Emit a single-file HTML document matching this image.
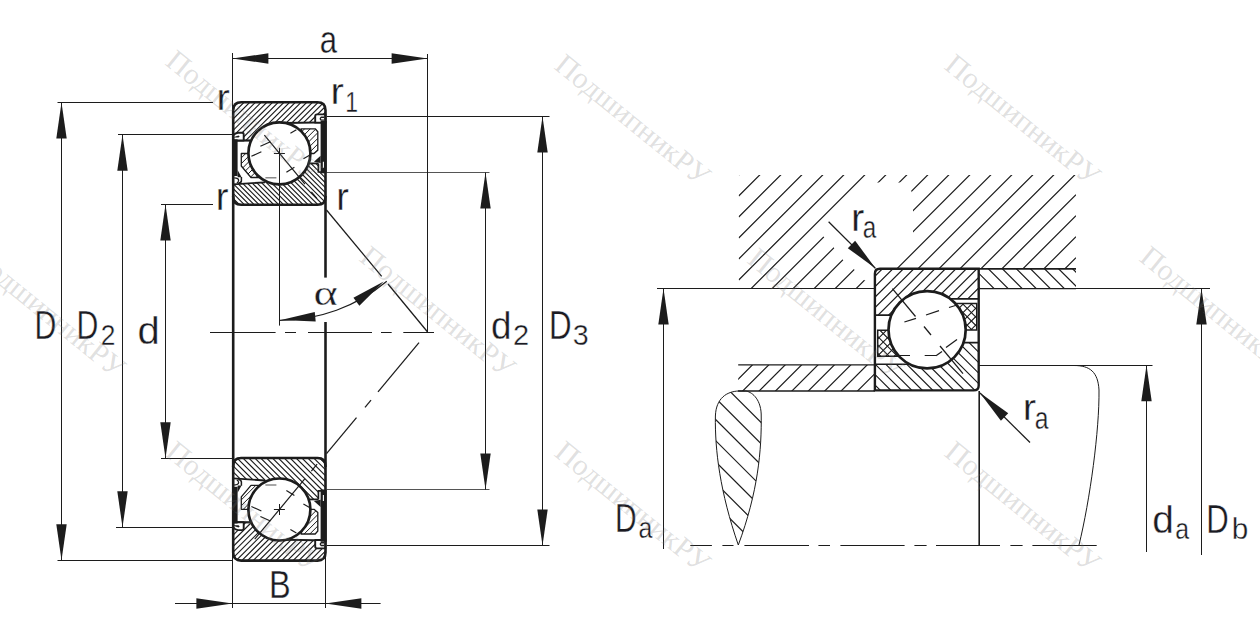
<!DOCTYPE html>
<html lang="ru"><head><meta charset="utf-8"><title>Подшипник</title>
<style>html,body{margin:0;padding:0;background:#fff}svg{display:block}</style></head><body>
<svg width="1260" height="626" viewBox="0 0 1260 626">
<rect width="1260" height="626" fill="#fff"/>
<g>
<clipPath id="cot"><path d="M233.2,140.5 L233.2,110.2 Q233.2,102.2 241.2,102.2 L317.5,102.2 Q325.5,102.2 325.5,110.2 L325.5,115 L315.2,115 L315.2,122.8 L279.4,122.8 L279.4,150 L250,150 L250,140.5 Z"/></clipPath>
<clipPath id="cit"><path d="M233.2,184.4 L265,182.3 L279.4,170 L309,163.4 L318.4,163.4 L318.4,172 L325.5,172 L325.5,196.8 Q325.5,204.8 317.5,204.8 L241.2,204.8 Q233.2,204.8 233.2,196.8 Z"/></clipPath>
<g clip-path="url(#cot)"><path d="M231.20,103.80L327.50,7.50M231.20,109.50L327.50,13.20M231.20,115.20L327.50,18.90M231.20,120.90L327.50,24.60M231.20,126.60L327.50,30.30M231.20,132.30L327.50,36.00M231.20,138.00L327.50,41.70M231.20,143.70L327.50,47.40M231.20,149.40L327.50,53.10M231.20,155.10L327.50,58.80M231.20,160.80L327.50,64.50M231.20,166.50L327.50,70.20M231.20,172.20L327.50,75.90M231.20,177.90L327.50,81.60M231.20,183.60L327.50,87.30M231.20,189.30L327.50,93.00M231.20,195.00L327.50,98.70M231.20,200.70L327.50,104.40M231.20,206.40L327.50,110.10M231.20,212.10L327.50,115.80M231.20,217.80L327.50,121.50M231.20,223.50L327.50,127.20M231.20,229.20L327.50,132.90M231.20,234.90L327.50,138.60M231.20,240.60L327.50,144.30M231.20,246.30L327.50,150.00M231.20,252.00L327.50,155.70M231.20,257.70L327.50,161.40M231.20,263.40L327.50,167.10M231.20,269.10L327.50,172.80M231.20,274.80L327.50,178.50M231.20,280.50L327.50,184.20M231.20,286.20L327.50,189.90M231.20,291.90L327.50,195.60M231.20,297.60L327.50,201.30" stroke="#1c1c1c" stroke-width="1.15" fill="none"/></g>
<g clip-path="url(#cit)"><path d="M231.20,5.30L327.50,101.60M231.20,10.20L327.50,106.50M231.20,15.10L327.50,111.40M231.20,20.00L327.50,116.30M231.20,24.90L327.50,121.20M231.20,29.80L327.50,126.10M231.20,34.70L327.50,131.00M231.20,39.60L327.50,135.90M231.20,44.50L327.50,140.80M231.20,49.40L327.50,145.70M231.20,54.30L327.50,150.60M231.20,59.20L327.50,155.50M231.20,64.10L327.50,160.40M231.20,69.00L327.50,165.30M231.20,73.90L327.50,170.20M231.20,78.80L327.50,175.10M231.20,83.70L327.50,180.00M231.20,88.60L327.50,184.90M231.20,93.50L327.50,189.80M231.20,98.40L327.50,194.70M231.20,103.30L327.50,199.60M231.20,108.20L327.50,204.50M231.20,113.10L327.50,209.40M231.20,118.00L327.50,214.30M231.20,122.90L327.50,219.20M231.20,127.80L327.50,224.10M231.20,132.70L327.50,229.00M231.20,137.60L327.50,233.90M231.20,142.50L327.50,238.80M231.20,147.40L327.50,243.70M231.20,152.30L327.50,248.60M231.20,157.20L327.50,253.50M231.20,162.10L327.50,258.40M231.20,167.00L327.50,263.30M231.20,171.90L327.50,268.20M231.20,176.80L327.50,273.10M231.20,181.70L327.50,278.00M231.20,186.60L327.50,282.90M231.20,191.50L327.50,287.80M231.20,196.40L327.50,292.70M231.20,201.30L327.50,297.60M231.20,206.20L327.50,302.50" stroke="#1c1c1c" stroke-width="1.15" fill="none"/></g>
<clipPath id="cct"><path d="M241.3,153.5 L249,153.5 L262,177.5 L251,177.5 L241.3,166 Z M301,128.8 L315.2,128.8 L317.8,131.8 L317.8,150.3 L314,153.5 L308,153.5 Z"/></clipPath>
<g clip-path="url(#cct)"><path d="M231.20,105.30L327.50,9.00M231.20,111.00L327.50,14.70M231.20,116.70L327.50,20.40M231.20,122.40L327.50,26.10M231.20,128.10L327.50,31.80M231.20,133.80L327.50,37.50M231.20,139.50L327.50,43.20M231.20,145.20L327.50,48.90M231.20,150.90L327.50,54.60M231.20,156.60L327.50,60.30M231.20,162.30L327.50,66.00M231.20,168.00L327.50,71.70M231.20,173.70L327.50,77.40M231.20,179.40L327.50,83.10M231.20,185.10L327.50,88.80M231.20,190.80L327.50,94.50M231.20,196.50L327.50,100.20M231.20,202.20L327.50,105.90M231.20,207.90L327.50,111.60M231.20,213.60L327.50,117.30M231.20,219.30L327.50,123.00M231.20,225.00L327.50,128.70M231.20,230.70L327.50,134.40M231.20,236.40L327.50,140.10M231.20,242.10L327.50,145.80M231.20,247.80L327.50,151.50M231.20,253.50L327.50,157.20M231.20,259.20L327.50,162.90M231.20,264.90L327.50,168.60M231.20,270.60L327.50,174.30M231.20,276.30L327.50,180.00M231.20,282.00L327.50,185.70M231.20,287.70L327.50,191.40M231.20,293.40L327.50,197.10M231.20,299.10L327.50,202.80" stroke="#1c1c1c" stroke-width="1.0" fill="none"/></g>
<path d="M241.3,153.5 L249,153.5 L262,177.5 L251,177.5 L241.3,166 Z M301,128.8 L315.2,128.8 L317.8,131.8 L317.8,150.3 L314,153.5 L308,153.5 Z" fill="none" stroke="#1c1c1c" stroke-width="1.3" stroke-linejoin="round"/>
<path d="M233.2,184.4 L265,182.3" stroke="#1c1c1c" stroke-width="1.8" fill="none"/>
<path d="M285.4,123.0 L315.2,122.6" stroke="#1c1c1c" stroke-width="2.0" fill="none"/>
<path d="M308,163.4 L318.4,163.4" stroke="#1c1c1c" stroke-width="1.8" fill="none"/>
<path d="M233.2,140.5 L250,140.5" stroke="#1c1c1c" stroke-width="2.2" fill="none"/>
<path d="M233.2,140.5 L243.7,140.5 L243.7,134.2 Q243.7,132.7 242,132.7 L238,132.7 Q235,133 233.2,135.5 Z" fill="#fff" stroke="#1c1c1c" stroke-width="1.9" stroke-linejoin="round"/>
<path d="M234,136.9 L238.5,135.4 L239.7,136.4 L238.5,137.5 L234,137.6 Z" fill="#1c1c1c"/>
<rect x="232.2" y="139.30" width="5.4" height="36.70" fill="#1c1c1c"/>
<path d="M237.6,170 L241.6,177.2 L237.6,177.2 Z" fill="#1c1c1c"/>
<path d="M241.4,177 L241.4,181 Q241,183 238.3,183.2" fill="none" stroke="#1c1c1c" stroke-width="1.5"/>
<path d="M234.2,177.8 Q238.8,178 238.6,180.5 Q238.4,182.4 236.8,183" fill="none" stroke="#1c1c1c" stroke-width="1.3"/>
<path d="M325.5,114.4 L317,114.4 Q315.2,114.4 315.2,116.2 L315.2,122.8 L325.5,122.8 Z" fill="#fff" stroke="#1c1c1c" stroke-width="1.9" stroke-linejoin="round"/>
<path d="M324.2,117.3 L321.2,117.3 Q319.4,118.7 321.2,120.1 L324.2,120.1" fill="none" stroke="#1c1c1c" stroke-width="1.4"/>
<rect x="320.6" y="121.00" width="6.1" height="52.30" fill="#1c1c1c"/>
<path d="M320.6,155.8 L313.9,161.8 L320.6,163 Z" fill="#1c1c1c"/>
<path d="M318.4,163.4 L318.4,172 L321,172" fill="none" stroke="#1c1c1c" stroke-width="1.7"/>
<path d="M323.4,161.8 L323.4,167.8" fill="none" stroke="#fff" stroke-width="1.1"/>
<circle cx="279.4" cy="153.30" r="31.0" fill="#fff" stroke="#1c1c1c" stroke-width="2.7"/>
<path d="M241.2,102.2 L317.5,102.2 Q325.5,102.2 325.5,110.2 L325.5,196.8 Q325.5,204.8 317.5,204.8 L241.2,204.8 Q233.2,204.8 233.2,196.8 L233.2,110.2 Q233.2,102.2 241.2,102.2 Z" fill="none" stroke="#1c1c1c" stroke-width="2.6"/>
<line x1="273.90" y1="153.50" x2="284.90" y2="153.50" stroke="#1c1c1c" stroke-width="1.0" />
<line x1="279.50" y1="147.80" x2="279.50" y2="158.80" stroke="#1c1c1c" stroke-width="1.0" />
<line x1="260.40" y1="146.30" x2="270.40" y2="141.80" stroke="#1c1c1c" stroke-width="1.2"/>
<line x1="251.40" y1="156.30" x2="261.40" y2="151.80" stroke="#1c1c1c" stroke-width="1.2"/>
<line x1="290.40" y1="133.30" x2="296.40" y2="129.80" stroke="#1c1c1c" stroke-width="1.2"/>
<line x1="286.40" y1="172.30" x2="294.40" y2="167.30" stroke="#1c1c1c" stroke-width="1.2"/>
<line x1="303.40" y1="158.80" x2="310.40" y2="154.80" stroke="#1c1c1c" stroke-width="1.2"/>
<line x1="265.40" y1="177.80" x2="276.40" y2="177.80" stroke="#777" stroke-width="1.3"/>
<line x1="264.39" y1="135.22" x2="304.95" y2="184.08" stroke="#1c1c1c" stroke-width="1.2"/>
<line x1="311.34" y1="191.77" x2="317.09" y2="198.69" stroke="#1c1c1c" stroke-width="1.2"/>
<clipPath id="cob"><path d="M233.2,522.3 L233.2,552.5999999999999 Q233.2,560.5999999999999 241.2,560.5999999999999 L317.5,560.5999999999999 Q325.5,560.5999999999999 325.5,552.5999999999999 L325.5,547.8 L315.2,547.8 L315.2,540.0 L279.4,540.0 L279.4,512.8 L250,512.8 L250,522.3 Z"/></clipPath>
<clipPath id="cib"><path d="M233.2,478.4 L265,480.49999999999994 L279.4,492.79999999999995 L309,499.4 L318.4,499.4 L318.4,490.79999999999995 L325.5,490.79999999999995 L325.5,465.99999999999994 Q325.5,457.99999999999994 317.5,457.99999999999994 L241.2,457.99999999999994 Q233.2,457.99999999999994 233.2,465.99999999999994 Z"/></clipPath>
<g clip-path="url(#cob)"><path d="M231.20,457.20L327.50,360.90M231.20,462.90L327.50,366.60M231.20,468.60L327.50,372.30M231.20,474.30L327.50,378.00M231.20,480.00L327.50,383.70M231.20,485.70L327.50,389.40M231.20,491.40L327.50,395.10M231.20,497.10L327.50,400.80M231.20,502.80L327.50,406.50M231.20,508.50L327.50,412.20M231.20,514.20L327.50,417.90M231.20,519.90L327.50,423.60M231.20,525.60L327.50,429.30M231.20,531.30L327.50,435.00M231.20,537.00L327.50,440.70M231.20,542.70L327.50,446.40M231.20,548.40L327.50,452.10M231.20,554.10L327.50,457.80M231.20,559.80L327.50,463.50M231.20,565.50L327.50,469.20M231.20,571.20L327.50,474.90M231.20,576.90L327.50,480.60M231.20,582.60L327.50,486.30M231.20,588.30L327.50,492.00M231.20,594.00L327.50,497.70M231.20,599.70L327.50,503.40M231.20,605.40L327.50,509.10M231.20,611.10L327.50,514.80M231.20,616.80L327.50,520.50M231.20,622.50L327.50,526.20M231.20,628.20L327.50,531.90M231.20,633.90L327.50,537.60M231.20,639.60L327.50,543.30M231.20,645.30L327.50,549.00M231.20,651.00L327.50,554.70M231.20,656.70L327.50,560.40" stroke="#1c1c1c" stroke-width="1.15" fill="none"/></g>
<g clip-path="url(#cib)"><path d="M231.20,363.70L327.50,460.00M231.20,369.60L327.50,465.90M231.20,375.50L327.50,471.80M231.20,381.40L327.50,477.70M231.20,387.30L327.50,483.60M231.20,393.20L327.50,489.50M231.20,399.10L327.50,495.40M231.20,405.00L327.50,501.30M231.20,410.90L327.50,507.20M231.20,416.80L327.50,513.10M231.20,422.70L327.50,519.00M231.20,428.60L327.50,524.90M231.20,434.50L327.50,530.80M231.20,440.40L327.50,536.70M231.20,446.30L327.50,542.60M231.20,452.20L327.50,548.50M231.20,458.10L327.50,554.40M231.20,464.00L327.50,560.30M231.20,469.90L327.50,566.20M231.20,475.80L327.50,572.10M231.20,481.70L327.50,578.00M231.20,487.60L327.50,583.90M231.20,493.50L327.50,589.80M231.20,499.40L327.50,595.70M231.20,505.30L327.50,601.60M231.20,511.20L327.50,607.50M231.20,517.10L327.50,613.40M231.20,523.00L327.50,619.30M231.20,528.90L327.50,625.20M231.20,534.80L327.50,631.10M231.20,540.70L327.50,637.00M231.20,546.60L327.50,642.90M231.20,552.50L327.50,648.80M231.20,558.40L327.50,654.70" stroke="#1c1c1c" stroke-width="1.15" fill="none"/></g>
<clipPath id="ccb"><path d="M241.3,509.29999999999995 L249,509.29999999999995 L262,485.29999999999995 L251,485.29999999999995 L241.3,496.79999999999995 Z M301,534.0 L315.2,534.0 L317.8,531.0 L317.8,512.5 L314,509.29999999999995 L308,509.29999999999995 Z"/></clipPath>
<g clip-path="url(#ccb)"><path d="M231.20,458.70L327.50,362.40M231.20,464.40L327.50,368.10M231.20,470.10L327.50,373.80M231.20,475.80L327.50,379.50M231.20,481.50L327.50,385.20M231.20,487.20L327.50,390.90M231.20,492.90L327.50,396.60M231.20,498.60L327.50,402.30M231.20,504.30L327.50,408.00M231.20,510.00L327.50,413.70M231.20,515.70L327.50,419.40M231.20,521.40L327.50,425.10M231.20,527.10L327.50,430.80M231.20,532.80L327.50,436.50M231.20,538.50L327.50,442.20M231.20,544.20L327.50,447.90M231.20,549.90L327.50,453.60M231.20,555.60L327.50,459.30M231.20,561.30L327.50,465.00M231.20,567.00L327.50,470.70M231.20,572.70L327.50,476.40M231.20,578.40L327.50,482.10M231.20,584.10L327.50,487.80M231.20,589.80L327.50,493.50M231.20,595.50L327.50,499.20M231.20,601.20L327.50,504.90M231.20,606.90L327.50,510.60M231.20,612.60L327.50,516.30M231.20,618.30L327.50,522.00M231.20,624.00L327.50,527.70M231.20,629.70L327.50,533.40M231.20,635.40L327.50,539.10M231.20,641.10L327.50,544.80M231.20,646.80L327.50,550.50M231.20,652.50L327.50,556.20M231.20,658.20L327.50,561.90" stroke="#1c1c1c" stroke-width="1.0" fill="none"/></g>
<path d="M241.3,509.29999999999995 L249,509.29999999999995 L262,485.29999999999995 L251,485.29999999999995 L241.3,496.79999999999995 Z M301,534.0 L315.2,534.0 L317.8,531.0 L317.8,512.5 L314,509.29999999999995 L308,509.29999999999995 Z" fill="none" stroke="#1c1c1c" stroke-width="1.3" stroke-linejoin="round"/>
<path d="M233.2,478.4 L265,480.49999999999994" stroke="#1c1c1c" stroke-width="1.8" fill="none"/>
<path d="M285.4,539.8 L315.2,540.1999999999999" stroke="#1c1c1c" stroke-width="2.0" fill="none"/>
<path d="M308,499.4 L318.4,499.4" stroke="#1c1c1c" stroke-width="1.8" fill="none"/>
<path d="M233.2,522.3 L250,522.3" stroke="#1c1c1c" stroke-width="2.2" fill="none"/>
<path d="M233.2,522.3 L243.7,522.3 L243.7,528.5999999999999 Q243.7,530.0999999999999 242,530.0999999999999 L238,530.0999999999999 Q235,529.8 233.2,527.3 Z" fill="#fff" stroke="#1c1c1c" stroke-width="1.9" stroke-linejoin="round"/>
<path d="M234,525.9 L238.5,527.4 L239.7,526.4 L238.5,525.3 L234,525.1999999999999 Z" fill="#1c1c1c"/>
<rect x="232.2" y="486.80" width="5.4" height="36.70" fill="#1c1c1c"/>
<path d="M237.6,492.79999999999995 L241.6,485.59999999999997 L237.6,485.59999999999997 Z" fill="#1c1c1c"/>
<path d="M241.4,485.79999999999995 L241.4,481.79999999999995 Q241,479.79999999999995 238.3,479.59999999999997" fill="none" stroke="#1c1c1c" stroke-width="1.5"/>
<path d="M234.2,484.99999999999994 Q238.8,484.79999999999995 238.6,482.29999999999995 Q238.4,480.4 236.8,479.79999999999995" fill="none" stroke="#1c1c1c" stroke-width="1.3"/>
<path d="M325.5,548.4 L317,548.4 Q315.2,548.4 315.2,546.5999999999999 L315.2,540.0 L325.5,540.0 Z" fill="#fff" stroke="#1c1c1c" stroke-width="1.9" stroke-linejoin="round"/>
<path d="M324.2,545.5 L321.2,545.5 Q319.4,544.0999999999999 321.2,542.6999999999999 L324.2,542.6999999999999" fill="none" stroke="#1c1c1c" stroke-width="1.4"/>
<rect x="320.6" y="489.50" width="6.1" height="52.30" fill="#1c1c1c"/>
<path d="M320.6,506.99999999999994 L313.9,500.99999999999994 L320.6,499.79999999999995 Z" fill="#1c1c1c"/>
<path d="M318.4,499.4 L318.4,490.79999999999995 L321,490.79999999999995" fill="none" stroke="#1c1c1c" stroke-width="1.7"/>
<path d="M323.4,500.99999999999994 L323.4,494.99999999999994" fill="none" stroke="#fff" stroke-width="1.1"/>
<circle cx="279.4" cy="509.50" r="31.0" fill="#fff" stroke="#1c1c1c" stroke-width="2.7"/>
<path d="M241.2,560.5999999999999 L317.5,560.5999999999999 Q325.5,560.5999999999999 325.5,552.5999999999999 L325.5,465.99999999999994 Q325.5,457.99999999999994 317.5,457.99999999999994 L241.2,457.99999999999994 Q233.2,457.99999999999994 233.2,465.99999999999994 L233.2,552.5999999999999 Q233.2,560.5999999999999 241.2,560.5999999999999 Z" fill="none" stroke="#1c1c1c" stroke-width="2.6"/>
<line x1="273.90" y1="509.50" x2="284.90" y2="509.50" stroke="#1c1c1c" stroke-width="1.0" />
<line x1="279.50" y1="504.00" x2="279.50" y2="515.00" stroke="#1c1c1c" stroke-width="1.0" />
<line x1="260.40" y1="516.50" x2="270.40" y2="521.00" stroke="#1c1c1c" stroke-width="1.2"/>
<line x1="251.40" y1="506.50" x2="261.40" y2="511.00" stroke="#1c1c1c" stroke-width="1.2"/>
<line x1="290.40" y1="529.50" x2="296.40" y2="533.00" stroke="#1c1c1c" stroke-width="1.2"/>
<line x1="286.40" y1="490.50" x2="294.40" y2="495.50" stroke="#1c1c1c" stroke-width="1.2"/>
<line x1="303.40" y1="504.00" x2="310.40" y2="508.00" stroke="#1c1c1c" stroke-width="1.2"/>
<line x1="265.40" y1="485.00" x2="276.40" y2="485.00" stroke="#777" stroke-width="1.3"/>
<line x1="254.74" y1="539.20" x2="304.95" y2="478.72" stroke="#1c1c1c" stroke-width="1.2"/>
<line x1="311.34" y1="471.03" x2="317.09" y2="464.11" stroke="#1c1c1c" stroke-width="1.2"/>
</g>
<line x1="233.20" y1="196.00" x2="233.20" y2="467.00" stroke="#1c1c1c" stroke-width="2.6" />
<line x1="325.50" y1="196.00" x2="325.50" y2="277.60" stroke="#1c1c1c" stroke-width="2.6" />
<line x1="325.50" y1="322.00" x2="325.50" y2="467.00" stroke="#1c1c1c" stroke-width="2.6" />
<path d="M210,332.5 H275.6 M285,332.5 H296 M308,332.5 H372 M381,332.5 H391.7 M403.3,332.5 H434" stroke="#1c1c1c" stroke-width="1.0" fill="none"/>
<line x1="279.50" y1="153.30" x2="279.50" y2="325.60" stroke="#1c1c1c" stroke-width="1.0" />
<line x1="326.50" y1="210.00" x2="381.70" y2="276.40" stroke="#1c1c1c" stroke-width="1.25" />
<line x1="388.00" y1="284.00" x2="427.60" y2="332.00" stroke="#1c1c1c" stroke-width="1.25" />
<line x1="419.00" y1="342.60" x2="378.00" y2="391.80" stroke="#1c1c1c" stroke-width="1.25" />
<line x1="371.00" y1="400.20" x2="365.00" y2="407.40" stroke="#1c1c1c" stroke-width="1.25" />
<line x1="356.50" y1="417.60" x2="326.50" y2="453.60" stroke="#1c1c1c" stroke-width="1.25" />
<path d="M279.40,320.30 A167.0,167.0 0 0 0 386.75,281.23" fill="none" stroke="#1c1c1c" stroke-width="1.2"/>
<polygon points="280.90,320.10 314.75,311.90 315.71,321.45" fill="#1c1c1c"/>
<polygon points="383.70,281.50 359.39,305.79 353.42,297.76" fill="#1c1c1c"/>
<line x1="232.50" y1="53.00" x2="232.50" y2="110.00" stroke="#1c1c1c" stroke-width="1.0" />
<line x1="427.50" y1="54.00" x2="427.50" y2="332.00" stroke="#1c1c1c" stroke-width="1.0" />
<line x1="232.40" y1="58.50" x2="427.60" y2="58.50" stroke="#1c1c1c" stroke-width="1.0" />
<polygon points="232.40,58.50 268.40,53.30 268.40,63.70" fill="#1c1c1c"/>
<polygon points="427.60,58.50 391.60,63.70 391.60,53.30" fill="#1c1c1c"/>
<line x1="232.50" y1="552.00" x2="232.50" y2="608.00" stroke="#1c1c1c" stroke-width="1.0" />
<line x1="325.50" y1="552.00" x2="325.50" y2="608.00" stroke="#1c1c1c" stroke-width="1.0" />
<line x1="175.00" y1="603.50" x2="380.60" y2="603.50" stroke="#1c1c1c" stroke-width="1.0" />
<polygon points="232.40,603.50 196.40,608.70 196.40,598.30" fill="#1c1c1c"/>
<polygon points="325.40,603.50 361.40,598.30 361.40,608.70" fill="#1c1c1c"/>
<line x1="57.50" y1="102.50" x2="213.00" y2="102.50" stroke="#1c1c1c" stroke-width="1.0" />
<line x1="57.50" y1="560.50" x2="232.40" y2="560.50" stroke="#1c1c1c" stroke-width="1.0" />
<line x1="61.50" y1="102.40" x2="61.50" y2="560.30" stroke="#1c1c1c" stroke-width="1.0" />
<polygon points="61.50,102.40 66.70,138.40 56.30,138.40" fill="#1c1c1c"/>
<polygon points="61.50,560.30 56.30,524.30 66.70,524.30" fill="#1c1c1c"/>
<line x1="118.00" y1="134.50" x2="232.40" y2="134.50" stroke="#1c1c1c" stroke-width="1.0" />
<line x1="116.00" y1="527.50" x2="232.40" y2="527.50" stroke="#1c1c1c" stroke-width="1.0" />
<line x1="122.50" y1="134.80" x2="122.50" y2="527.30" stroke="#1c1c1c" stroke-width="1.0" />
<polygon points="122.50,134.80 127.70,170.80 117.30,170.80" fill="#1c1c1c"/>
<polygon points="122.50,527.30 117.30,491.30 127.70,491.30" fill="#1c1c1c"/>
<line x1="161.00" y1="204.50" x2="213.00" y2="204.50" stroke="#1c1c1c" stroke-width="1.0" />
<line x1="161.00" y1="458.50" x2="232.40" y2="458.50" stroke="#1c1c1c" stroke-width="1.0" />
<line x1="165.50" y1="204.40" x2="165.50" y2="458.30" stroke="#1c1c1c" stroke-width="1.0" />
<polygon points="165.50,204.40 170.70,240.40 160.30,240.40" fill="#1c1c1c"/>
<polygon points="165.50,458.30 160.30,422.30 170.70,422.30" fill="#1c1c1c"/>
<line x1="327.00" y1="172.50" x2="489.50" y2="172.50" stroke="#1c1c1c" stroke-width="1.0" stroke-opacity="0.75"/>
<line x1="327.00" y1="489.50" x2="489.50" y2="489.50" stroke="#1c1c1c" stroke-width="1.0" stroke-opacity="0.75"/>
<line x1="485.50" y1="172.60" x2="485.50" y2="489.60" stroke="#1c1c1c" stroke-width="1.0" />
<polygon points="485.50,172.60 490.70,208.60 480.30,208.60" fill="#1c1c1c"/>
<polygon points="485.50,489.60 480.30,453.60 490.70,453.60" fill="#1c1c1c"/>
<line x1="327.00" y1="116.50" x2="549.50" y2="116.50" stroke="#1c1c1c" stroke-width="1.0" />
<line x1="327.00" y1="545.50" x2="549.50" y2="545.50" stroke="#1c1c1c" stroke-width="1.0" />
<line x1="542.50" y1="116.50" x2="542.50" y2="545.40" stroke="#1c1c1c" stroke-width="1.0" />
<polygon points="542.50,116.50 547.70,152.50 537.30,152.50" fill="#1c1c1c"/>
<polygon points="542.50,545.40 537.30,509.40 547.70,509.40" fill="#1c1c1c"/>
<clipPath id="ch"><path clip-rule="evenodd" d="M738.7,175.0 L1076.0,175.0 L1076.0,268.8 L874.9,268.8 L874.9,288.6 L738.7,288.6 Z M822.5,235.4 L875.3,182.6 L908.5,182.6 L913,196.2 L913,233.9 L892,259.5 L880,271 L872,281 L864.8,280.6 L854.8,270 L843,260 L834,247.8 Z"/></clipPath>
<g clip-path="url(#ch)"><path d="M738.70,175.00L1076.00,-162.30M738.70,196.00L1076.00,-141.30M738.70,217.00L1076.00,-120.30M738.70,238.00L1076.00,-99.30M738.70,259.00L1076.00,-78.30M738.70,280.00L1076.00,-57.30M738.70,301.00L1076.00,-36.30M738.70,322.00L1076.00,-15.30M738.70,343.00L1076.00,5.70M738.70,364.00L1076.00,26.70M738.70,385.00L1076.00,47.70M738.70,406.00L1076.00,68.70M738.70,427.00L1076.00,89.70M738.70,448.00L1076.00,110.70M738.70,469.00L1076.00,131.70M738.70,490.00L1076.00,152.70M738.70,511.00L1076.00,173.70M738.70,532.00L1076.00,194.70M738.70,553.00L1076.00,215.70M738.70,574.00L1076.00,236.70M738.70,595.00L1076.00,257.70M738.70,616.00L1076.00,278.70" stroke="#1c1c1c" stroke-width="1.2" fill="none"/></g>
<clipPath id="cs"><rect x="978.7" y="268.8" width="97.30" height="19.8"/></clipPath>
<g clip-path="url(#cs)"><path d="M970.00,152.10L1080.00,262.10M970.00,166.15L1080.00,276.15M970.00,180.20L1080.00,290.20M970.00,194.25L1080.00,304.25M970.00,208.30L1080.00,318.30M970.00,222.35L1080.00,332.35M970.00,236.40L1080.00,346.40M970.00,250.45L1080.00,360.45M970.00,264.50L1080.00,374.50M970.00,278.55L1080.00,388.55M970.00,292.60L1080.00,402.60" stroke="#1c1c1c" stroke-width="1.2" fill="none"/></g>
<clipPath id="csh"><rect x="738.2" y="364.9" width="136.70" height="26.1"/></clipPath>
<g clip-path="url(#csh)"><path d="M730.00,370.90L880.00,220.90M730.00,387.30L880.00,237.30M730.00,403.70L880.00,253.70M730.00,420.10L880.00,270.10M730.00,436.50L880.00,286.50M730.00,452.90L880.00,302.90M730.00,469.30L880.00,319.30M730.00,485.70L880.00,335.70M730.00,502.10L880.00,352.10M730.00,518.50L880.00,368.50M730.00,534.90L880.00,384.90" stroke="#1c1c1c" stroke-width="1.2" fill="none"/></g>
<clipPath id="ct"><path d="M738.5,391 C727,391.5 716,398 715.4,416 C714.8,450 720,492 738.3,545 C758,492 761.8,450 761.2,414 C760.5,398 751,391.5 745.5,391 Z"/></clipPath>
<g clip-path="url(#ct)"><path d="M710.00,350.20L765.00,405.20M710.00,371.40L765.00,426.40M710.00,392.60L765.00,447.60M710.00,413.80L765.00,468.80M710.00,435.00L765.00,490.00M710.00,456.20L765.00,511.20M710.00,477.40L765.00,532.40M710.00,498.60L765.00,553.60M710.00,519.80L765.00,574.80M710.00,541.00L765.00,596.00" stroke="#1c1c1c" stroke-width="1.2" fill="none"/></g>
<path d="M738.5,391 C727,391.5 716,398 715.4,416 C714.8,450 720,492 738.3,545 C758,492 761.8,450 761.2,414 C760.5,398 751,391.5 745.5,391 Z" fill="none" stroke="#1c1c1c" stroke-width="1.0"/>
<clipPath id="cro"><path d="M874.9,268.8 L978.7,268.8 L978.7,298.8 L927.1,298.8 L927.1,315.1 L874.9,315.1 Z"/></clipPath><clipPath id="cri"><path d="M874.9,364.2 L927.1,364.2 L927.1,342.7 L978.7,342.7 L978.7,390.4 L874.9,390.4 Z"/></clipPath>
<g clip-path="url(#cro)"><path d="M870.00,270.70L982.00,158.70M870.00,281.20L982.00,169.20M870.00,291.70L982.00,179.70M870.00,302.20L982.00,190.20M870.00,312.70L982.00,200.70M870.00,323.20L982.00,211.20M870.00,333.70L982.00,221.70M870.00,344.20L982.00,232.20M870.00,354.70L982.00,242.70M870.00,365.20L982.00,253.20M870.00,375.70L982.00,263.70M870.00,386.20L982.00,274.20M870.00,396.70L982.00,284.70M870.00,407.20L982.00,295.20M870.00,417.70L982.00,305.70M870.00,428.20L982.00,316.20M870.00,438.70L982.00,326.70M870.00,449.20L982.00,337.20M870.00,459.70L982.00,347.70M870.00,470.20L982.00,358.20M870.00,480.70L982.00,368.70M870.00,491.20L982.00,379.20M870.00,501.70L982.00,389.70" stroke="#1c1c1c" stroke-width="1.2" fill="none"/></g>
<g clip-path="url(#cri)"><path d="M870.00,159.50L982.00,271.50M870.00,170.00L982.00,282.00M870.00,180.50L982.00,292.50M870.00,191.00L982.00,303.00M870.00,201.50L982.00,313.50M870.00,212.00L982.00,324.00M870.00,222.50L982.00,334.50M870.00,233.00L982.00,345.00M870.00,243.50L982.00,355.50M870.00,254.00L982.00,366.00M870.00,264.50L982.00,376.50M870.00,275.00L982.00,387.00M870.00,285.50L982.00,397.50M870.00,296.00L982.00,408.00M870.00,306.50L982.00,418.50M870.00,317.00L982.00,429.00M870.00,327.50L982.00,439.50M870.00,338.00L982.00,450.00M870.00,348.50L982.00,460.50M870.00,359.00L982.00,471.00M870.00,369.50L982.00,481.50M870.00,380.00L982.00,492.00M870.00,390.50L982.00,502.50" stroke="#1c1c1c" stroke-width="1.2" fill="none"/></g>
<clipPath id="crc"><path d="M927.1,303.4 L976.7,303.4 L976.7,330 L927.1,330 Z M877.7,330.3 L927.1,330.3 L927.1,356.3 L877.7,356.3 Z"/></clipPath>
<g clip-path="url(#crc)"><path d="M870.00,271.20L982.00,159.20M870.00,279.60L982.00,167.60M870.00,288.00L982.00,176.00M870.00,296.40L982.00,184.40M870.00,304.80L982.00,192.80M870.00,313.20L982.00,201.20M870.00,321.60L982.00,209.60M870.00,330.00L982.00,218.00M870.00,338.40L982.00,226.40M870.00,346.80L982.00,234.80M870.00,355.20L982.00,243.20M870.00,363.60L982.00,251.60M870.00,372.00L982.00,260.00M870.00,380.40L982.00,268.40M870.00,388.80L982.00,276.80M870.00,397.20L982.00,285.20M870.00,405.60L982.00,293.60M870.00,414.00L982.00,302.00M870.00,422.40L982.00,310.40M870.00,430.80L982.00,318.80M870.00,439.20L982.00,327.20M870.00,447.60L982.00,335.60M870.00,456.00L982.00,344.00M870.00,464.40L982.00,352.40M870.00,472.80L982.00,360.80M870.00,481.20L982.00,369.20M870.00,489.60L982.00,377.60M870.00,498.00L982.00,386.00M870.00,506.40L982.00,394.40" stroke="#1c1c1c" stroke-width="1.1" fill="none"/><path d="M870.00,160.80L982.00,272.80M870.00,169.20L982.00,281.20M870.00,177.60L982.00,289.60M870.00,186.00L982.00,298.00M870.00,194.40L982.00,306.40M870.00,202.80L982.00,314.80M870.00,211.20L982.00,323.20M870.00,219.60L982.00,331.60M870.00,228.00L982.00,340.00M870.00,236.40L982.00,348.40M870.00,244.80L982.00,356.80M870.00,253.20L982.00,365.20M870.00,261.60L982.00,373.60M870.00,270.00L982.00,382.00M870.00,278.40L982.00,390.40M870.00,286.80L982.00,398.80M870.00,295.20L982.00,407.20M870.00,303.60L982.00,415.60M870.00,312.00L982.00,424.00M870.00,320.40L982.00,432.40M870.00,328.80L982.00,440.80M870.00,337.20L982.00,449.20M870.00,345.60L982.00,457.60M870.00,354.00L982.00,466.00M870.00,362.40L982.00,474.40M870.00,370.80L982.00,482.80M870.00,379.20L982.00,491.20M870.00,387.60L982.00,499.60" stroke="#1c1c1c" stroke-width="1.1" fill="none"/></g>
<path d="M927.1,303.4 L976.7,303.4 L976.7,330 L927.1,330 Z M877.7,330.3 L927.1,330.3 L927.1,356.3 L877.7,356.3 Z" fill="none" stroke="#1c1c1c" stroke-width="1.5"/>
<line x1="874.90" y1="315.10" x2="927.10" y2="315.10" stroke="#1c1c1c" stroke-width="1.6" />
<line x1="927.10" y1="298.80" x2="978.70" y2="298.80" stroke="#1c1c1c" stroke-width="1.8" />
<line x1="874.90" y1="364.20" x2="927.10" y2="364.20" stroke="#1c1c1c" stroke-width="1.6" />
<line x1="927.10" y1="342.70" x2="978.70" y2="342.70" stroke="#1c1c1c" stroke-width="1.8" />
<circle cx="927.1" cy="329.8" r="38.6" fill="#fff" stroke="#1c1c1c" stroke-width="2.7"/>
<path d="M879.9,268.8 L978.7,268.8 L978.7,385.4 Q978.7,390.4 973.7,390.4 L874.9,390.4 L874.9,273.8 Q874.9,268.8 879.9,268.8 Z" fill="none" stroke="#1c1c1c" stroke-width="2.4"/>
<line x1="978.70" y1="268.80" x2="1076.00" y2="268.80" stroke="#1c1c1c" stroke-width="1.7" />
<line x1="978.70" y1="288.60" x2="1076.00" y2="288.60" stroke="#1c1c1c" stroke-width="1.4" />
<line x1="738.20" y1="364.90" x2="874.90" y2="364.90" stroke="#1c1c1c" stroke-width="1.4" />
<line x1="738.00" y1="391.00" x2="874.90" y2="391.00" stroke="#1c1c1c" stroke-width="1.4" />
<line x1="657.00" y1="288.50" x2="874.90" y2="288.50" stroke="#1c1c1c" stroke-width="1.0" />
<line x1="1076.00" y1="288.50" x2="1210.00" y2="288.50" stroke="#1c1c1c" stroke-width="1.0" />
<line x1="978.70" y1="365.50" x2="1152.50" y2="365.50" stroke="#1c1c1c" stroke-width="1.0" />
<path d="M1074,365.5 C1090,365.5 1098,372 1099,390 C1099.5,430 1090,500 1079,545" fill="none" stroke="#1c1c1c" stroke-width="1.0"/>
<line x1="979.20" y1="391.00" x2="979.20" y2="545.00" stroke="#1c1c1c" stroke-width="1.6" />
<path d="M690.3,545.5 H711.9 M722.4,545.5 H733.5 M744.4,545.5 H809 M818.4,545.5 H830 M840.4,545.5 H904.6 M914.4,545.5 H926.6 M936,545.5 H1000 M1010.4,545.5 H1022.6 M1032.4,545.5 H1096.7" stroke="#1c1c1c" stroke-width="1.0" fill="none"/>
<line x1="663.50" y1="288.50" x2="663.50" y2="549.00" stroke="#1c1c1c" stroke-width="1.0" />
<polygon points="663.50,288.50 668.70,324.50 658.30,324.50" fill="#1c1c1c"/>
<line x1="1146.50" y1="365.30" x2="1146.50" y2="552.00" stroke="#1c1c1c" stroke-width="1.0" />
<polygon points="1146.50,365.30 1151.70,401.30 1141.30,401.30" fill="#1c1c1c"/>
<line x1="1201.50" y1="288.60" x2="1201.50" y2="555.00" stroke="#1c1c1c" stroke-width="1.0" />
<polygon points="1201.50,288.60 1206.70,324.60 1196.30,324.60" fill="#1c1c1c"/>
<line x1="828.60" y1="221.80" x2="875.30" y2="268.20" stroke="#1c1c1c" stroke-width="1.25" />
<polygon points="875.60,268.40 847.81,248.13 855.14,240.75" fill="#1c1c1c"/>
<line x1="1030.00" y1="442.50" x2="980.00" y2="393.00" stroke="#1c1c1c" stroke-width="1.25" />
<polygon points="979.60,392.40 1008.21,413.22 1000.92,420.64" fill="#1c1c1c"/>
<line x1="892.40" y1="288.60" x2="915.50" y2="316.50" stroke="#1c1c1c" stroke-width="1.25" />
<line x1="924.00" y1="326.50" x2="931.00" y2="335.00" stroke="#1c1c1c" stroke-width="1.25" />
<line x1="940.00" y1="346.00" x2="963.00" y2="373.70" stroke="#1c1c1c" stroke-width="1.25" />
<line x1="904.40" y1="322.00" x2="916.00" y2="318.30" stroke="#1c1c1c" stroke-width="1.25" />
<line x1="926.00" y1="315.00" x2="939.00" y2="310.70" stroke="#1c1c1c" stroke-width="1.25" />
<line x1="949.00" y1="307.50" x2="957.00" y2="305.00" stroke="#1c1c1c" stroke-width="1.25" />
<line x1="946.00" y1="347.50" x2="957.00" y2="339.50" stroke="#1c1c1c" stroke-width="1.25" />
<line x1="924.70" y1="355.50" x2="936.00" y2="355.50" stroke="#1c1c1c" stroke-width="1.0" />
<line x1="936.00" y1="355.80" x2="942.00" y2="351.50" stroke="#1c1c1c" stroke-width="1.25" />
<line x1="899.00" y1="355.50" x2="910.00" y2="355.50" stroke="#1c1c1c" stroke-width="1.0" />
<text transform="translate(319.76,52.81) scale(0.806,1)" font-family='"Liberation Sans", sans-serif' font-size="38.55" fill="#1b1b22" stroke="#fff" stroke-width="0.35" text-anchor="start" >a</text>
<text transform="translate(216.40,110.00) scale(1.08,1)" font-family='"Liberation Sans", sans-serif' font-size="37.04" fill="#1b1b22" stroke="#fff" stroke-width="0.35" text-anchor="start" >r</text>
<text transform="translate(330.40,104.00) scale(1.08,1)" font-family='"Liberation Sans", sans-serif' font-size="37.04" fill="#1b1b22" stroke="#fff" stroke-width="0.35" text-anchor="start" >r</text>
<text transform="translate(345.28,111.60) scale(0.77,1)" font-family='"Liberation Sans", sans-serif' font-size="29.86" fill="#1b1b22" stroke="#fff" stroke-width="0.35" text-anchor="start" >1</text>
<text transform="translate(215.80,209.60) scale(0.983,1)" font-family='"Liberation Sans", sans-serif' font-size="39.07" fill="#1b1b22" stroke="#fff" stroke-width="0.35" text-anchor="start" >r</text>
<text transform="translate(336.23,209.60) scale(0.973,1)" font-family='"Liberation Sans", sans-serif' font-size="39.07" fill="#1b1b22" stroke="#fff" stroke-width="0.35" text-anchor="start" >r</text>
<text transform="translate(34.58,339.00) scale(0.745,1)" font-family='"Liberation Sans", sans-serif' font-size="40.58" fill="#1b1b22" stroke="#fff" stroke-width="0.35" text-anchor="start" >D</text>
<text transform="translate(76.58,339.00) scale(0.745,1)" font-family='"Liberation Sans", sans-serif' font-size="40.58" fill="#1b1b22" stroke="#fff" stroke-width="0.35" text-anchor="start" >D</text>
<text transform="translate(100.68,345.00) scale(0.879,1)" font-family='"Liberation Sans", sans-serif' font-size="30.0" fill="#1b1b22" stroke="#fff" stroke-width="0.35" text-anchor="start" >2</text>
<text transform="translate(137.40,343.61) scale(1.014,1)" font-family='"Liberation Sans", sans-serif' font-size="39.46" fill="#1b1b22" stroke="#fff" stroke-width="0.35" text-anchor="start" >d</text>
<text transform="translate(490.92,338.61) scale(0.935,1)" font-family='"Liberation Sans", sans-serif' font-size="39.46" fill="#1b1b22" stroke="#fff" stroke-width="0.35" text-anchor="start" >d</text>
<text transform="translate(512.95,344.60) scale(1.005,1)" font-family='"Liberation Sans", sans-serif' font-size="28.86" fill="#1b1b22" stroke="#fff" stroke-width="0.35" text-anchor="start" >2</text>
<text transform="translate(548.90,339.00) scale(0.782,1)" font-family='"Liberation Sans", sans-serif' font-size="40.0" fill="#1b1b22" stroke="#fff" stroke-width="0.35" text-anchor="start" >D</text>
<text transform="translate(572.85,345.30) scale(0.959,1)" font-family='"Liberation Sans", sans-serif' font-size="29.86" fill="#1b1b22" stroke="#fff" stroke-width="0.35" text-anchor="start" >3</text>
<text transform="translate(269.00,597.60) scale(0.844,1)" font-family='"Liberation Sans", sans-serif' font-size="38.55" fill="#1b1b22" stroke="#fff" stroke-width="0.35" text-anchor="start" >B</text>
<text transform="translate(850.90,230.60) scale(1.038,1)" font-family='"Liberation Sans", sans-serif' font-size="38.52" fill="#1b1b22" stroke="#fff" stroke-width="0.35" text-anchor="start" >r</text>
<text transform="translate(862.73,238.29) scale(0.772,1)" font-family='"Liberation Sans", sans-serif' font-size="31.45" fill="#1b1b22" stroke="#fff" stroke-width="0.35" text-anchor="start" >a</text>
<text transform="translate(1022.80,419.60) scale(1.059,1)" font-family='"Liberation Sans", sans-serif' font-size="37.78" fill="#1b1b22" stroke="#fff" stroke-width="0.35" text-anchor="start" >r</text>
<text transform="translate(1034.71,428.58) scale(0.771,1)" font-family='"Liberation Sans", sans-serif' font-size="32.0" fill="#1b1b22" stroke="#fff" stroke-width="0.35" text-anchor="start" >a</text>
<text transform="translate(614.91,532.40) scale(0.751,1)" font-family='"Liberation Sans", sans-serif' font-size="39.86" fill="#1b1b22" stroke="#fff" stroke-width="0.35" text-anchor="start" >D</text>
<text transform="translate(638.61,538.20) scale(0.839,1)" font-family='"Liberation Sans", sans-serif' font-size="29.64" fill="#1b1b22" stroke="#fff" stroke-width="0.35" text-anchor="start" >a</text>
<text transform="translate(1152.24,532.61) scale(0.996,1)" font-family='"Liberation Sans", sans-serif' font-size="39.05" fill="#1b1b22" stroke="#fff" stroke-width="0.35" text-anchor="start" >d</text>
<text transform="translate(1175.21,539.10) scale(0.823,1)" font-family='"Liberation Sans", sans-serif' font-size="30.18" fill="#1b1b22" stroke="#fff" stroke-width="0.35" text-anchor="start" >a</text>
<text transform="translate(1206.31,532.70) scale(0.772,1)" font-family='"Liberation Sans", sans-serif' font-size="40.29" fill="#1b1b22" stroke="#fff" stroke-width="0.35" text-anchor="start" >D</text>
<text transform="translate(1231.76,539.10) scale(0.981,1)" font-family='"Liberation Sans", sans-serif' font-size="30.34" fill="#1b1b22" stroke="#fff" stroke-width="0.35" text-anchor="start" >b</text>
<text transform="translate(313.55,305.45) scale(1.331,1)" font-family='"Liberation Serif", serif' font-size="34.79" fill="#1b1b22" stroke="#fff" stroke-width="0.35" text-anchor="start" >α</text>
<g font-family='"Liberation Serif", serif' font-size="29.9" fill="#7a7a7a" fill-opacity="0.24">
<text transform="translate(164,64) rotate(39)">ПодшипникРУ</text>
<text transform="translate(553,68) rotate(39)">ПодшипникРУ</text>
<text transform="translate(943,68) rotate(39)">ПодшипникРУ</text>
<text transform="translate(-32,260) rotate(39)">ПодшипникРУ</text>
<text transform="translate(358,260) rotate(39)">ПодшипникРУ</text>
<text transform="translate(746,262) rotate(39)">ПодшипникРУ</text>
<text transform="translate(1138,260) rotate(39)">ПодшипникРУ</text>
<text transform="translate(164,455) rotate(39)">ПодшипникРУ</text>
<text transform="translate(553,455) rotate(39)">ПодшипникРУ</text>
<text transform="translate(943,455) rotate(39)">ПодшипникРУ</text>
</g>
</svg></body></html>
